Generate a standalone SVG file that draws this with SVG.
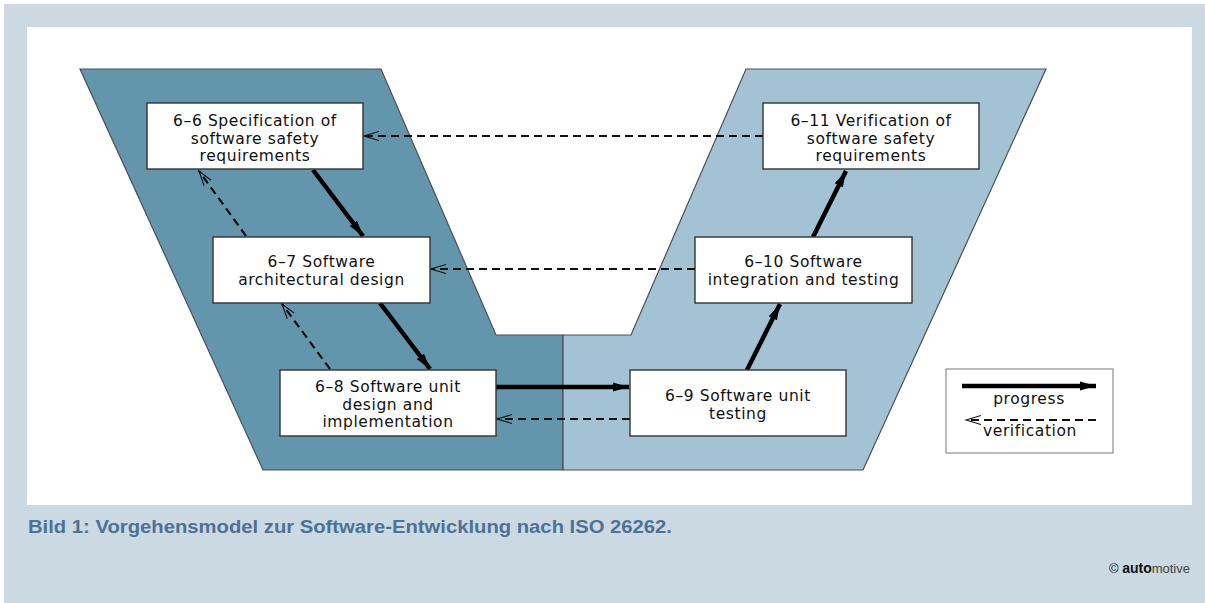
<svg xmlns="http://www.w3.org/2000/svg" width="1205" height="603" viewBox="0 0 1205 603">
  <style>
    .lbl { font-family: "DejaVu Sans", "Liberation Sans", sans-serif; font-size: 15.5px; letter-spacing: 0.6px; fill: #111; text-anchor: middle; }
    .box { fill: #fff; stroke: #333; stroke-width: 1.4; }
    .prog { stroke: #000; stroke-width: 4.5; fill: none; marker-end: url(#head); }
    .verif { stroke: #111; stroke-width: 2.2; stroke-dasharray: 8 5; fill: none; marker-end: url(#open); }
    .phase { stroke: #4a4f55; stroke-width: 1.2; }
    .caption { font-family: "Liberation Sans", Arial, sans-serif; font-weight: bold; font-size: 18px; fill: #4d7295; }
    .credit { font-family: "Liberation Sans", Arial, sans-serif; font-size: 13px; fill: #222; text-anchor: end; }
  </style>
  <defs>
    <marker id="head" markerUnits="userSpaceOnUse" markerWidth="20" markerHeight="12" refX="16" refY="5" orient="auto">
      <path d="M0,0.5 L16,5 L0,9.5 Z" fill="#000"/>
    </marker>
    <marker id="open" markerUnits="userSpaceOnUse" markerWidth="18" markerHeight="12" refX="15" refY="5" orient="auto">
      <path d="M0,0.5 L15,5 L0,9.5" fill="none" stroke="#111" stroke-width="1.1"/>
    </marker>
  </defs>

  <!-- page background and white figure panel -->
  <rect x="0" y="0" width="1205" height="603" fill="#ffffff"/>
  <rect x="4" y="4" width="1201" height="599" fill="#cbd9e2"/>
  <rect x="27" y="27" width="1165" height="478" fill="#ffffff"/>

  <!-- V-model phases: development (left) and test (right) -->
  <g id="phases">
    <path class="phase" d="M80,69 L381,69 L496,335 L563,335 L563,470 L263,470 Z" fill="#6396ad"/>
    <path class="phase" d="M746,69 L1046,69 L863,470 L563,470 L563,335 L631,335 Z" fill="#a3c2d3"/>
  </g>

  <!-- connectors -->
  <g id="connectors">
    <!-- progress -->
    <line class="prog" x1="313" y1="170" x2="363" y2="236"/>
    <line class="prog" x1="380" y1="303" x2="430" y2="369"/>
    <line class="prog" x1="496" y1="387" x2="629" y2="387"/>
    <line class="prog" x1="747" y1="370" x2="780" y2="304"/>
    <line class="prog" x1="813" y1="237" x2="846" y2="171"/>
    <!-- verification -->
    <line class="verif" x1="763" y1="136" x2="364" y2="136"/>
    <line class="verif" x1="695" y1="269" x2="431" y2="269"/>
    <line class="verif" x1="630" y1="419" x2="497" y2="419"/>
    <line class="verif" x1="246" y1="236" x2="199" y2="171"/>
    <line class="verif" x1="330" y1="369" x2="282" y2="304"/>
  </g>

  <g id="n66">
    <rect class="box" x="147" y="103" width="216" height="66"/>
    <text class="lbl" x="255" y="126">6–6 Specification of</text>
    <text class="lbl" x="255" y="143.5">software safety</text>
    <text class="lbl" x="255" y="161">requirements</text>
  </g>
  <g id="n67">
    <rect class="box" x="213" y="237" width="217" height="66"/>
    <text class="lbl" x="321.5" y="267">6–7 Software</text>
    <text class="lbl" x="321.5" y="284.5">architectural design</text>
  </g>
  <g id="n68">
    <rect class="box" x="280" y="370" width="216" height="66"/>
    <text class="lbl" x="388" y="392">6–8 Software unit</text>
    <text class="lbl" x="388" y="409.5">design and</text>
    <text class="lbl" x="388" y="427">implementation</text>
  </g>
  <g id="n69">
    <rect class="box" x="630" y="370" width="216" height="66"/>
    <text class="lbl" x="738" y="401">6–9 Software unit</text>
    <text class="lbl" x="738" y="418.5">testing</text>
  </g>
  <g id="n610">
    <rect class="box" x="695" y="237" width="217" height="66"/>
    <text class="lbl" x="803.5" y="267">6–10 Software</text>
    <text class="lbl" x="803.5" y="284.5">integration and testing</text>
  </g>
  <g id="n611">
    <rect class="box" x="763" y="103" width="216" height="66"/>
    <text class="lbl" x="871" y="126">6–11 Verification of</text>
    <text class="lbl" x="871" y="143.5">software safety</text>
    <text class="lbl" x="871" y="161">requirements</text>
  </g>

  <!-- legend -->
  <g id="legend">
    <rect x="946" y="369" width="167" height="84" fill="#fff" stroke="#777" stroke-width="1"/>
    <line class="prog" x1="962" y1="386" x2="1096" y2="386"/>
    <text class="lbl" x="1029" y="404">progress</text>
    <line class="verif" x1="1096" y1="420" x2="966" y2="420"/>
    <text class="lbl" x="1030" y="436">verification</text>
  </g>

  <!-- caption and credit -->
  <text class="caption" x="28" y="533" textLength="644" lengthAdjust="spacingAndGlyphs">Bild 1: Vorgehensmodel zur Software-Entwicklung nach ISO 26262.</text>
  <text class="credit" x="1190" y="573">© <tspan font-weight="bold" font-size="14" fill="#111">auto</tspan><tspan fill="#444">motive</tspan></text>
</svg>
